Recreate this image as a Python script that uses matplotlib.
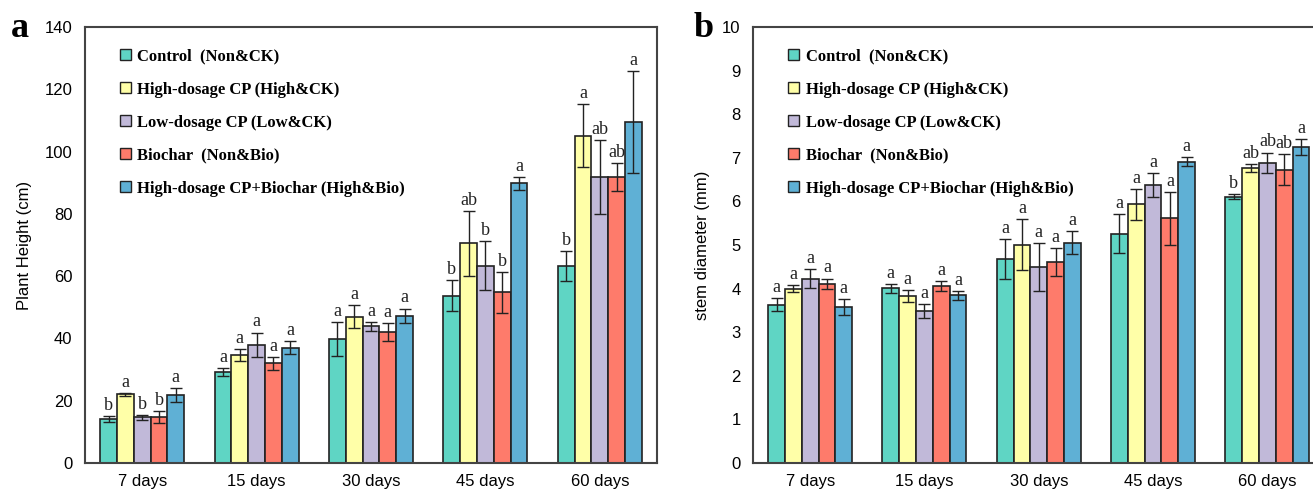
import numpy as np
import matplotlib.pyplot as plt
from matplotlib.patches import Patch

# data
days = ['7 days', '15 days', '30 days', '45 days', '60 days']
treatments = ['Control  (Non&CK)', 'High-dosage CP (High&CK)', 'Low-dosage CP (Low&CK)',
              'Biochar  (Non&Bio)', 'High-dosage CP+Biochar (High&Bio)']
colors = ['#5fd5c4', '#ffffa8', '#c1b9d9', '#fe7b6b', '#5fb0d5']

# plant height (cm), rows = treatment, cols = day
height_mean = [
    [14.1, 29.2, 39.8, 53.7, 63.2],
    [22.1, 34.8, 46.9, 70.6, 105.1],
    [14.7, 37.9, 43.9, 63.4, 91.7],
    [14.8, 32.0, 42.1, 54.8, 91.8],
    [21.9, 37.0, 47.2, 89.8, 109.5],
]
height_err = [
    [1.0, 1.3, 5.6, 5.0, 4.9],
    [0.5, 1.9, 3.7, 10.4, 10.1],
    [0.75, 4.0, 1.4, 7.9, 11.9],
    [1.8, 2.0, 2.8, 6.5, 4.4],
    [2.2, 2.1, 2.4, 2.1, 16.3],
]
height_sig = [
    ['b', 'a', 'a', 'b', 'b'],
    ['a', 'a', 'a', 'ab', 'a'],
    ['b', 'a', 'a', 'b', 'ab'],
    ['b', 'a', 'a', 'b', 'ab'],
    ['a', 'a', 'a', 'a', 'a'],
]

# stem diameter (mm)
stem_mean = [
    [3.63, 4.01, 4.67, 5.26, 6.11],
    [4.00, 3.83, 5.01, 5.93, 6.77],
    [4.23, 3.49, 4.49, 6.37, 6.89],
    [4.11, 4.06, 4.61, 5.61, 6.73],
    [3.58, 3.85, 5.05, 6.91, 7.25],
]
stem_err = [
    [0.15, 0.10, 0.46, 0.45, 0.06],
    [0.08, 0.145, 0.59, 0.35, 0.09],
    [0.22, 0.16, 0.55, 0.28, 0.23],
    [0.12, 0.12, 0.32, 0.60, 0.36],
    [0.19, 0.10, 0.26, 0.10, 0.18],
]
stem_sig = [
    ['a', 'a', 'a', 'a', 'b'],
    ['a', 'a', 'a', 'a', 'ab'],
    ['a', 'a', 'a', 'a', 'ab'],
    ['a', 'a', 'a', 'a', 'ab'],
    ['a', 'a', 'a', 'a', 'a'],
]

serif = ['Liberation Serif', 'DejaVu Serif']
sans = ['Liberation Sans', 'DejaVu Sans']

fig = plt.figure(figsize=(13.13, 4.9), dpi=100)
ax1 = fig.add_axes([0.0647, 0.0551, 0.4357, 0.8898])
ax2 = fig.add_axes([0.5735, 0.0551, 0.4353, 0.8898])


def draw(ax, means, errs, sigs, ymax, yticks, ylabel):
    x = np.arange(len(days))
    w = 0.147
    for i in range(len(treatments)):
        xs = x + (i - 2) * w
        ax.bar(xs, means[i], w, color=colors[i], edgecolor='#222222', linewidth=1.2, zorder=2)
        ax.errorbar(xs, means[i], yerr=errs[i], fmt='none', ecolor='#222222',
                    elinewidth=1.0, capsize=4, capthick=1.0, zorder=3)
        for j in range(len(days)):
            ax.annotate(sigs[i][j], (xs[j], means[i][j] + errs[i][j]),
                        xytext=(0, 1.5), textcoords='offset points',
                        ha='center', va='bottom', fontsize=13, family=serif, color='#222222')
    ax.set_xlim(-0.5, len(days) - 0.5)
    ax.set_ylim(0, ymax)
    ax.set_xticks(x)
    ax.set_xticklabels(days, fontsize=12, family=sans)
    ax.set_yticks(yticks)
    ax.set_yticklabels([str(t) for t in yticks], fontsize=12, family=sans)
    ax.tick_params(axis='x', length=0, pad=8)
    ax.tick_params(axis='y', length=0, pad=9)
    ax.set_ylabel(ylabel, fontsize=12, family=sans, labelpad=9)
    for s in ax.spines.values():
        s.set_color('#444444')
        s.set_linewidth(1.5)
    handles = [Patch(facecolor=c, edgecolor='#222222', linewidth=1.0) for c in colors]
    ax.legend(handles, treatments, loc='upper left', bbox_to_anchor=(0.035, 0.985),
              frameon=False, handlelength=0.65, handleheight=0.65, handletextpad=0.4,
              labelspacing=1.02, prop={'family': serif, 'weight': 'bold', 'size': 12})


draw(ax1, height_mean, height_err, height_sig, 140, list(range(0, 141, 20)), 'Plant Height (cm)')
draw(ax2, stem_mean, stem_err, stem_sig, 10, list(range(0, 11)), 'stem diameter (mm)')

fig.text(0.008, 0.925, 'a', fontsize=26, weight='bold', family=serif)
fig.text(0.528, 0.925, 'b', fontsize=26, weight='bold', family=serif)

fig.savefig('out.png', dpi=100)
